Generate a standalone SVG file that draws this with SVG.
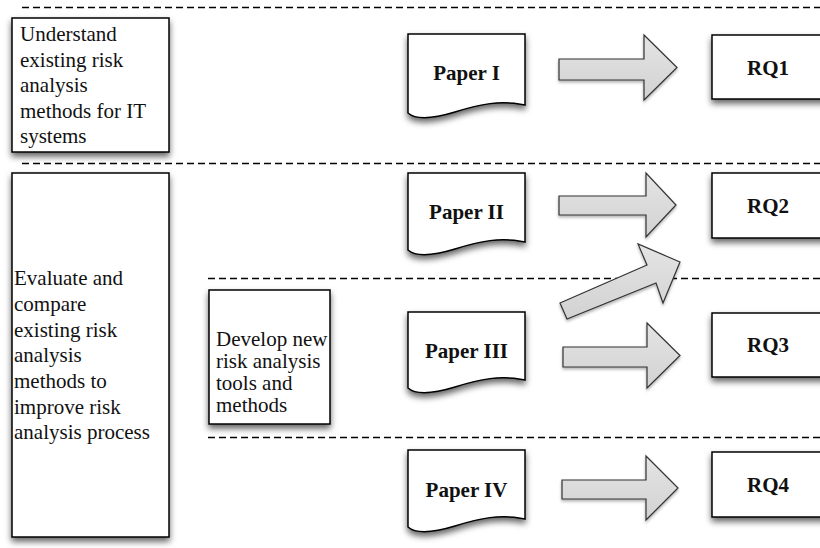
<svg xmlns="http://www.w3.org/2000/svg" width="820" height="548" viewBox="0 0 820 548">
<defs>
<filter id="sh" x="-20%" y="-20%" width="140%" height="150%">
<feDropShadow dx="0" dy="4" stdDeviation="3" flood-color="#000" flood-opacity="0.6"/>
</filter>
<filter id="sha" x="-20%" y="-20%" width="140%" height="150%">
<feDropShadow dx="0" dy="2" stdDeviation="1.5" flood-color="#000" flood-opacity="0.3"/>
</filter>
<linearGradient id="ag" x1="0" y1="0" x2="0" y2="1">
<stop offset="0" stop-color="#e4e4e4"/>
<stop offset="1" stop-color="#d2d2d2"/>
</linearGradient>
</defs>
<style>
.dash{stroke:#000;stroke-width:1.4;stroke-dasharray:7 4;fill:none}
.box{fill:#fff;stroke:#000;stroke-width:1.5;filter:url(#sh)}
.txt{font-family:"Liberation Serif","Times New Roman",serif;font-size:21px;fill:#111}
.lbl{font-family:"Liberation Serif","Times New Roman",serif;font-size:21px;font-weight:bold;fill:#111;text-anchor:middle}
.arr{fill:url(#ag);stroke:#333;stroke-width:1.2;stroke-linejoin:miter;filter:url(#sha)}
</style>
<rect width="820" height="548" fill="#fff"/>
<g id="separators">
<line class="dash" x1="22" y1="7.5" x2="820" y2="7.5"/>
<line class="dash" x1="22" y1="163.5" x2="820" y2="163.5"/>
<line class="dash" x1="208" y1="278.5" x2="820" y2="278.5"/>
<line class="dash" x1="208" y1="437.5" x2="820" y2="437.5"/>
</g>
<g id="goal1">
<rect class="box" x="12" y="18" width="157" height="134"/>
<text class="txt"><tspan x="20" y="41">Understand</tspan><tspan x="20" y="66.5">existing risk</tspan><tspan x="20" y="92">analysis</tspan><tspan x="20" y="117.5">methods for IT</tspan><tspan x="20" y="143">systems</tspan></text>
</g>
<g id="goal2">
<rect class="box" x="12" y="173" width="157" height="364"/>
<text class="txt"><tspan x="14" y="285">Evaluate and</tspan><tspan x="14" y="311">compare</tspan><tspan x="14" y="336.5">existing risk</tspan><tspan x="14" y="362">analysis</tspan><tspan x="14" y="388">methods to</tspan><tspan x="14" y="413.5">improve risk</tspan><tspan x="14" y="439">analysis process</tspan></text>
</g>
<g id="goal3">
<rect class="box" x="209" y="290" width="121" height="134"/>
<text class="txt"><tspan x="216" y="346">Develop new</tspan><tspan x="216" y="368">risk analysis</tspan><tspan x="216" y="390">tools and</tspan><tspan x="216" y="412">methods</tspan></text>
</g>
<g id="paper1">
<path class="box" d="M408,34 H525 V105 C500,100 480,104 455,112 C432,119 416,120 408,113 Z"/>
<text class="lbl" x="466.5" y="80">Paper I</text>
</g>
<g id="paper2">
<path class="box" d="M408,173 H525 V242 C500,237 480,241 455,249 C432,256 416,257 408,250 Z"/>
<text class="lbl" x="466.5" y="219">Paper II</text>
</g>
<g id="paper3">
<path class="box" d="M408,312 H525 V380 C500,375 480,379 455,387 C432,394 416,395 408,388 Z"/>
<text class="lbl" x="466.5" y="358">Paper III</text>
</g>
<g id="paper4">
<path class="box" d="M408,450 H525 V519 C500,514 480,518 455,526 C432,533 416,534 408,527 Z"/>
<text class="lbl" x="466.5" y="497">Paper IV</text>
</g>
<g id="rq1">
<rect class="box" x="712" y="35" width="120" height="64"/>
<text class="lbl" x="768" y="75">RQ1</text>
</g>
<g id="rq2">
<rect class="box" x="712" y="173" width="120" height="65"/>
<text class="lbl" x="768" y="213">RQ2</text>
</g>
<g id="rq3">
<rect class="box" x="712" y="313" width="120" height="64"/>
<text class="lbl" x="768" y="352">RQ3</text>
</g>
<g id="rq4">
<rect class="box" x="712" y="452" width="120" height="65"/>
<text class="lbl" x="768" y="492">RQ4</text>
</g>
<g id="connectors">
<polygon class="arr" points="559,59 644,59 644,35 677,67.5 644,100 644,80 559,80"/>
<polygon class="arr" points="559,196 646,196 646,173 676,205 646,237 646,215 559,215"/>
<polygon class="arr" points="560,303 647,265 638,244 680,262 663,303 656,283 567,319"/>
<polygon class="arr" points="563,347 647,347 647,323 680,355.5 647,388 647,367 563,367"/>
<polygon class="arr" points="562,480 646,480 646,456 678,488 646,520 646,499 562,499"/>
</g>
</svg>
